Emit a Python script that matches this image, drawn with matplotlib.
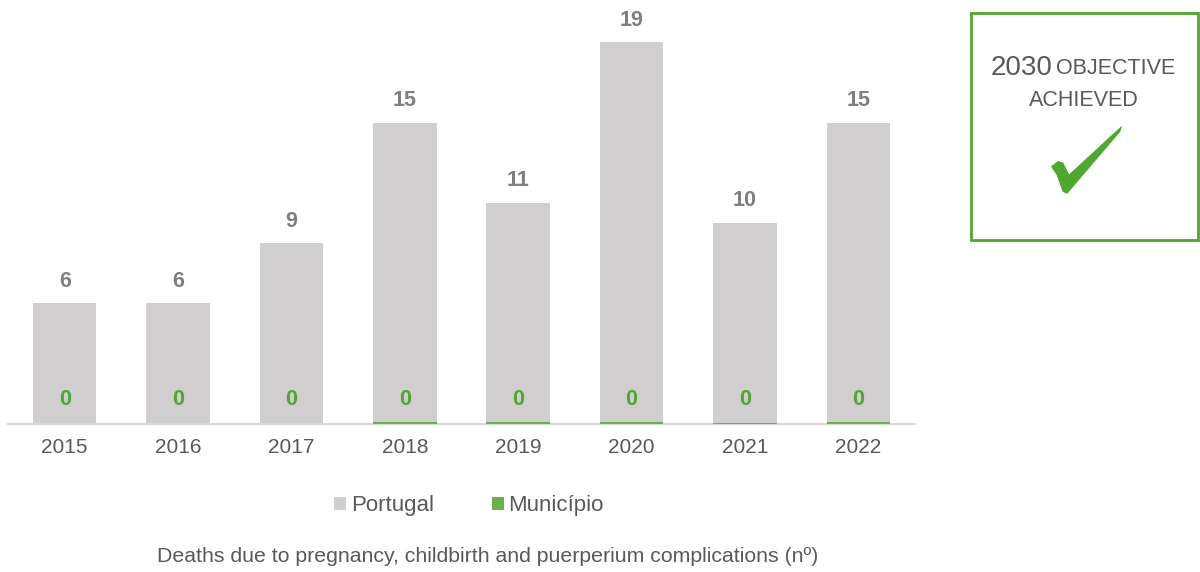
import matplotlib.pyplot as plt
from matplotlib.patches import Polygon, Rectangle
import numpy as np

plt.rcParams['font.family'] = ['Liberation Sans', 'DejaVu Sans']

years = ['2015', '2016', '2017', '2018', '2019', '2020', '2021', '2022']
portugal = [6, 6, 9, 15, 11, 19, 10, 15]
municipio = [0, 0, 0, 0.08, 0.08, 0.11, 0.07, 0.08]
municipio_labels = [0, 0, 0, 0, 0, 0, 0, 0]

grey = '#D0CECE'
green = '#4EA72E'
txt = '#595959'

fig = plt.figure(figsize=(12, 5.72), dpi=100)
ax = fig.add_axes([8/1200, 148/572, 907/1200, 422/572])

x = np.arange(len(years))
ax.bar(x, portugal, width=0.56, color=grey, label='Portugal', zorder=2)
ax.bar(x, municipio, width=0.56, color='#6AB04C', label='Município', zorder=3)

for i in range(len(years)):
    ax.text(x[i], portugal[i] + 1.1, str(portugal[i]), ha='center', va='center',
            fontsize=15.5, fontweight='bold', color='#7F7F7F')
    ax.text(x[i], 1.22, str(municipio_labels[i]), ha='center', va='center',
            fontsize=15.5, fontweight='bold', color=green, zorder=4)

ax.set_xlim(-0.5, 7.5)
ax.set_ylim(0, 21)
ax.set_xticks(x)
ax.set_xticklabels(years, fontsize=15, color=txt)
ax.tick_params(axis='x', length=0, pad=10)
ax.set_yticks([])
for s in ['top', 'right', 'left']:
    ax.spines[s].set_visible(False)
ax.spines['bottom'].set_color('#D9D9D9')
ax.spines['bottom'].set_linewidth(1.5)

leg = fig.legend(loc='center', bbox_to_anchor=(469/1200, 1 - 506/572), ncol=2,
                 frameon=False, fontsize=16, handlelength=0.55, handleheight=0.55,
                 handletextpad=0.2, columnspacing=2.6)
for t in leg.get_texts():
    t.set_color(txt)

fig.text(488/1200, 1 - 557/572,
         'Deaths due to pregnancy, childbirth and puerperium complications (nº)',
         ha='center', va='center', fontsize=15.3, color=txt)

# objective box
fig.patches.append(Rectangle((971/1200, 1 - 240/572), 227/1200, 227/572,
                             transform=fig.transFigure, fill=False,
                             edgecolor=green, linewidth=2))
fig.text(1022/1200, 1 - 68/572, '2030', ha='center', va='center',
         fontsize=20, color=txt)
fig.text(1116/1200, 1 - 69/572, 'OBJECTIVE', ha='center', va='center',
         fontsize=15.5, color=txt)
fig.text(1084/1200, 1 - 100/572, 'ACHIEVED', ha='center', va='center',
         fontsize=15.5, color=txt)

check = [(1051.5, 166.5), (1058, 161.5), (1063, 163), (1069, 175),
         (1121.5, 126.5), (1120, 131.5), (1067, 193.5), (1063, 191.5),
         (1057, 175)]
check = [(px / 1200, 1 - py / 572) for px, py in check]
fig.patches.append(Polygon(check, closed=True, transform=fig.transFigure,
                           facecolor=green, edgecolor=green, linewidth=0.5))

fig.savefig('out.png', dpi=100)
